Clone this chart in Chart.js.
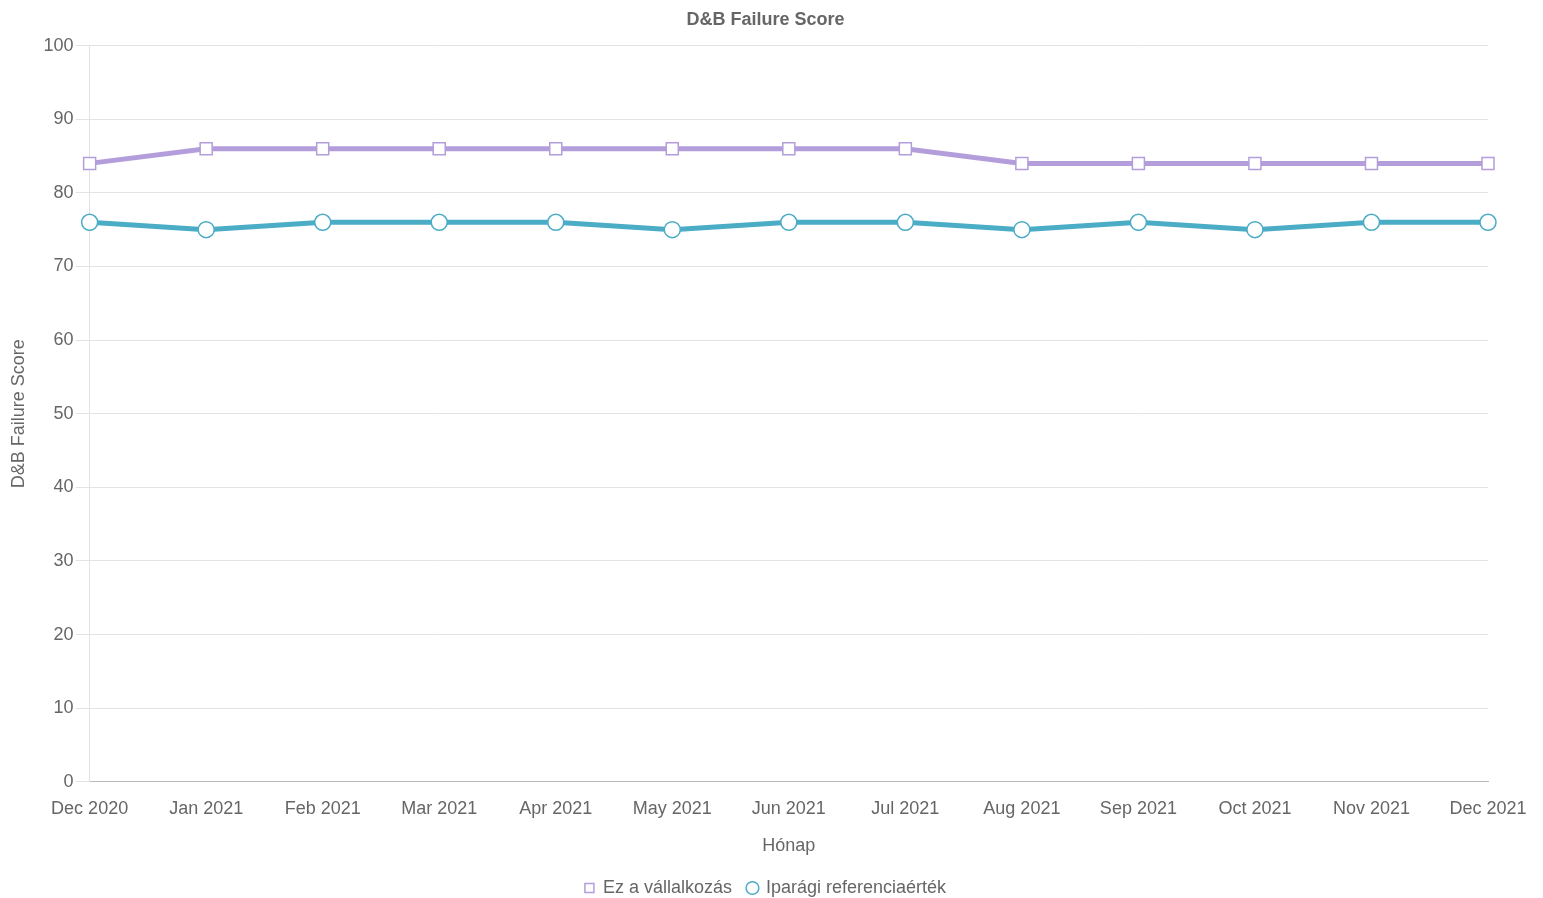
<!DOCTYPE html>
<html>
<head>
<meta charset="utf-8">
<script src="https://cdn.jsdelivr.net/npm/chart.js@4/dist/chart.umd.min.js"></script>
<style>
  html, body { margin: 0; padding: 0; background: #fff; }
  #wrap { width: 1543px; height: 898px; }
</style>
</head>
<body>
<div id="wrap"><canvas id="chart"></canvas></div>
<script>
// data
const months = ["Dec 2020", "Jan 2021", "Feb 2021", "Mar 2021", "Apr 2021", "May 2021", "Jun 2021",
  "Jul 2021", "Aug 2021", "Sep 2021", "Oct 2021", "Nov 2021", "Dec 2021"];
const companyScores = [84, 86, 86, 86, 86, 86, 86, 86, 84, 84, 84, 84, 84];
const industryScores = [76, 75, 76, 76, 76, 75, 76, 76, 75, 76, 75, 76, 76];

const purple = "#b39ddb";
const teal = "#4bacc6";
const grey = "#666";

Chart.defaults.font.family = "'Liberation Sans', Arial, sans-serif";
Chart.defaults.color = grey;

var ctx = document.getElementById("chart").getContext("2d");
var chart = new Chart(ctx, {
  type: "line",
  data: {
    labels: months,
    datasets: [
      {
        label: "Ez a vállalkozás",
        data: companyScores,
        borderColor: purple,
        backgroundColor: "#fff",
        borderWidth: 5,
        pointStyle: "rect",
        pointRadius: 8.5,
        pointBorderWidth: 1.5,
        pointBackgroundColor: "#fff",
        pointBorderColor: purple,
        tension: 0,
      },
      {
        label: "Iparági referenciaérték",
        data: industryScores,
        borderColor: teal,
        backgroundColor: "#fff",
        borderWidth: 5,
        pointStyle: "circle",
        pointRadius: 8,
        pointBorderWidth: 1.5,
        pointBackgroundColor: "#fff",
        pointBorderColor: teal,
        tension: 0,
      },
    ],
  },
  options: {
    responsive: true,
    maintainAspectRatio: false,
    animation: false,
    layout: { padding: { left: 8, right: 20, top: 7, bottom: -9 } },
    plugins: {
      title: {
        display: true,
        text: "D&B Failure Score",
        color: grey,
        font: { size: 18, weight: "bold" },
        padding: { top: 2, bottom: 15 },
      },
      legend: {
        position: "bottom",
        labels: {
          usePointStyle: true,
          boxWidth: 9,
          boxHeight: 9,
          padding: 16,
          color: grey,
          font: { size: 18 },
        },
      },
      tooltip: { enabled: false },
    },
    scales: {
      x: {
        offset: false,
        grid: { display: false, drawTicks: true, tickLength: 8 },
        border: { color: "#bbb", width: 1 },
        ticks: { color: grey, font: { size: 18 }, maxRotation: 0, autoSkip: false, padding: 8 },
        title: { display: true, text: "Hónap", color: grey, font: { size: 18 }, padding: { top: 8, bottom: 6 } },
        // leave room on the right like the reference
        afterFit: function (scale) { scale.paddingRight = 55; },
      },
      y: {
        min: 0,
        max: 100,
        grid: { color: "#e3e3e3", tickLength: 14 },
        border: { color: "#e3e3e3" },
        ticks: { stepSize: 10, color: grey, font: { size: 18 }, padding: 2 },
        title: { display: true, text: "D&B Failure Score", color: grey, font: { size: 18 }, padding: { top: 0, bottom: 12 } },
      },
    },
  },
});
</script>
</body>
</html>
